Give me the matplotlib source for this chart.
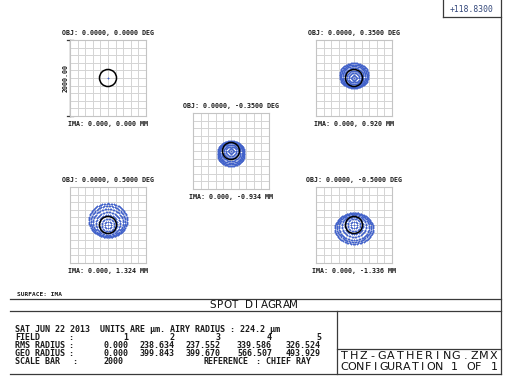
import matplotlib
matplotlib.use('Agg')
import matplotlib.pyplot as plt
import numpy as np

# field data
field_no = [1, 2, 3, 4, 5]
obj_deg = ['0.0000, 0.0000', '0.0000, 0.3500', '0.0000, -0.3500', '0.0000, 0.5000', '0.0000, -0.5000']
ima_mm = ['0.000, 0.000', '0.000, 0.920', '0.000, -0.934', '0.000, 1.324', '0.000, -1.336']
rms_radius = [0.000, 238.634, 237.552, 339.586, 326.524]
geo_radius = [0.000, 399.843, 399.670, 566.507, 493.929]
airy_radius = 224.2
scale_bar = 2000

# spot shapes in um: for each pupil ring, the top, bottom and half width of the ring image
ring_top = [[], [66, 132, 197, 263, 316, 355, 395], [66, 118, 171, 210, 237, 250, 263],
            [79, 158, 263, 342, 421, 500, 566], [79, 158, 210, 263, 289, 316, 316]]
ring_bot = [[], [-66, -118, -171, -210, -237, -250, -263], [-66, -132, -197, -263, -316, -355, -395],
            [-79, -158, -210, -263, -289, -316, -316], [-79, -158, -237, -316, -395, -447, -494]]
ring_hw = [[], [66, 132, 184, 250, 302, 342, 381], [66, 132, 184, 250, 302, 329, 355],
           [79, 158, 237, 316, 395, 447, 500], [79, 158, 237, 316, 395, 447, 500]]

W, H = 511, 376
mono = 'DejaVu Sans Mono'

fig = plt.figure(figsize=(W / 100, H / 100), dpi=100)
fig.patch.set_facecolor('white')
bg = fig.add_axes([0, 0, 1, 1])
bg.set_xlim(0, W)
bg.set_ylim(H, 0)
bg.axis('off')

line_c = '#3a3a3a'


def hline(y, x0, x1):
    bg.plot([x0, x1], [y, y], color=line_c, lw=0.9)


def vline(x, y0, y1):
    bg.plot([x, x], [y0, y1], color=line_c, lw=0.9)


def txt(x, y, s, size=4.8, ha='left', **kw):
    bg.text(x, y, s, fontsize=size, family=mono, weight='bold', ha=ha, va='center',
            color='#1a1a1a', **kw)


def spaced(x0, x1, y, s, size=8):
    # spread the characters evenly over a span, like the plotter font
    step = (x1 - x0) / len(s)
    for i, ch in enumerate(s):
        bg.text(x0 + step * (i + 0.5), y, ch, fontsize=size, family='DejaVu Sans',
                ha='center', va='center', color='#111111')


def px_axes(x, y, w, h):
    return fig.add_axes([x / W, 1 - (y + h) / H, w / W, h / H])


# spot boxes (layout in pixels)
boxes = [(70, 40), (316, 40), (193, 113), (70, 187), (316, 187)]
for i, (bx, by) in enumerate(boxes):
    a = px_axes(bx, by, 76, 76)
    a.set_xlim(-1000, 1000)
    a.set_ylim(-1000, 1000)
    a.set_xticks([])
    a.set_yticks([])
    for s in a.spines.values():
        s.set_color('#c4c4c4')
        s.set_linewidth(0.8)
    for v in np.arange(-800, 1000, 200):
        a.axhline(v, color='#d4d4d4', lw=0.7, zorder=0)
        a.axvline(v, color='#d4d4d4', lw=0.7, zorder=0)
    xs, ys = [0.0], [0.0]
    for j, (t, b, hw) in enumerate(zip(ring_top[i], ring_bot[i], ring_hw[i])):
        n = 12 * (j + 1)
        th = np.linspace(0, 2 * np.pi, n, endpoint=False) + (j % 2) * np.pi / n
        xs.extend(hw * np.cos(th))
        ys.extend((t + b) / 2 + (t - b) / 2 * np.sin(th))
    a.plot(xs, ys, '+', color='#4262ca', ms=2.1, mew=0.6, zorder=2)
    a.add_patch(plt.Circle((0, 0), airy_radius, fill=False, color='black', lw=1.1, zorder=3))
    cx = bx + 38
    txt(cx, by - 7, 'OBJ: %s DEG' % obj_deg[i], ha='center')
    txt(cx, by + 84, 'IMA: %s MM' % ima_mm[i], ha='center')

# scale bar on first field
vline(70, 40, 116)
hline(40, 67, 73)
hline(116, 67, 73)
bg.text(65.5, 78, '%.2f' % scale_bar, fontsize=4.8, family=mono, weight='bold', rotation=90,
        ha='center', va='center', color='#1a1a1a')

# frame
vline(501, 0, 374)
vline(443, 0, 17)
hline(17, 443, 501)
hline(299, 10, 501)
hline(311, 10, 501)
hline(374, 10, 501)
vline(337, 311, 374)
hline(349, 337, 501)
bg.text(472, 10, '+118.8300', fontsize=5.8, family=mono, ha='center', va='center',
        color='#33477a')

txt(17, 295, 'SURFACE: IMA', size=4.4)
spaced(209, 297, 305.5, 'SPOT DIAGRAM', size=7.5)
spaced(340, 498, 356, 'THZ-GATHERING.ZMX', size=8)
spaced(340, 498, 367, 'CONFIGURATION 1 OF 1', size=8)

# report text
rows = [330, 338, 346, 354, 361.5]
fs = 6.0
txt(15, rows[0], 'SAT JUN 22 2013', size=fs)
txt(100, rows[0], 'UNITS ARE \u00b5m.', size=fs)
txt(170, rows[0], 'AIRY RADIUS : %.1f \u00b5m' % airy_radius, size=fs)
txt(15, rows[1], 'FIELD', size=fs)
txt(15, rows[2], 'RMS RADIUS', size=fs)
txt(15, rows[3], 'GEO RADIUS', size=fs)
txt(15, rows[4], 'SCALE BAR', size=fs)
for r in rows[1:4]:
    txt(68, r, ':', size=fs)
txt(72, rows[4], ':', size=fs)
col_x = [128, 175, 221, 272, 321]
for i in range(5):
    txt(col_x[i], rows[1], str(field_no[i]), size=fs, ha='right')
    txt(col_x[i], rows[2], '%.3f' % rms_radius[i], size=fs, ha='right')
    txt(col_x[i], rows[3], '%.3f' % geo_radius[i], size=fs, ha='right')
txt(103, rows[4], str(scale_bar), size=fs)
txt(203, rows[4], 'REFERENCE', size=fs)
txt(256, rows[4], ': CHIEF RAY', size=fs)

fig.savefig('out.png', dpi=100, facecolor='white')
